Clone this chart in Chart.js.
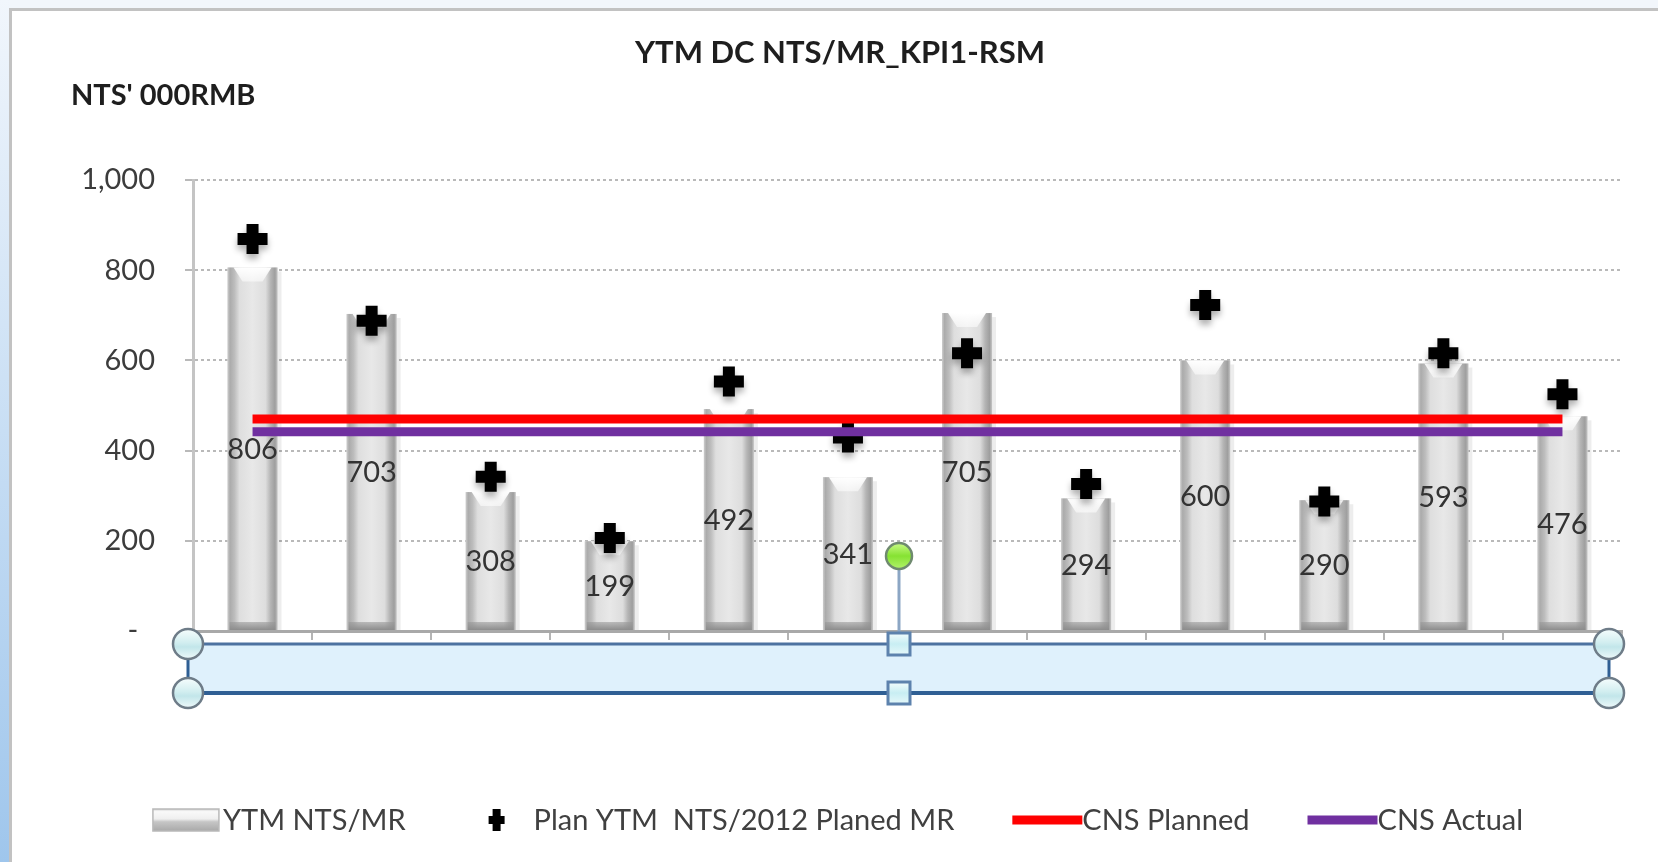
<!DOCTYPE html>
<html>
<head>
<meta charset="utf-8">
<title>YTM DC NTS/MR_KPI1-RSM</title>
<script src="https://cdn.jsdelivr.net/npm/chart.js@4.4.1/dist/chart.umd.min.js"></script>
<style>
  html, body { margin: 0; padding: 0; background: #ffffff; overflow: hidden; }
  canvas { display: block; }
</style>
</head>
<body>
<canvas id="kpiChart" width="1658" height="862"></canvas>
<script>
// ---- chart data ----
const categories = ['RSM 1', 'RSM 2', 'RSM 3', 'RSM 4', 'RSM 5', 'RSM 6',
                    'RSM 7', 'RSM 8', 'RSM 9', 'RSM 10', 'RSM 11', 'RSM 12'];
const ytmNtsMr    = [806, 703, 308, 199, 492, 341, 705, 294, 600, 290, 593, 476];
const planYtmNts  = [869, 688, 342, 206, 553, 429, 616, 326, 723, 287, 616, 525];
const cnsPlanned  = [470, 470, 470, 470, 470, 470, 470, 470, 470, 470, 470, 470];
const cnsActual   = [442, 442, 442, 442, 442, 442, 442, 442, 442, 442, 442, 442];
const seriesNames = ['YTM NTS/MR', 'Plan YTM  NTS/2012 Planed MR', 'CNS Planned', 'CNS Actual'];
const yTickValues = [0, 200, 400, 600, 800, 1000];
const chartTitle  = 'YTM DC NTS/MR_KPI1-RSM';
const unitLabel   = "NTS' 000RMB";

const FONT = 'Lato, "Open Sans", "DejaVu Sans", sans-serif';
const TEXT_SIZE = 29;

Chart.defaults.font.family = FONT;
Chart.defaults.font.size = TEXT_SIZE;

function strokeLine(ctx, x1, y1, x2, y2) {
  ctx.beginPath(); ctx.moveTo(x1, y1); ctx.lineTo(x2, y2); ctx.stroke();
}

// window background and chart frame
const framePlugin = {
  id: 'frame',
  beforeDraw(chart) {
    const { ctx, width, height } = chart;
    ctx.save();
    ctx.fillStyle = '#f2f6fb';
    ctx.fillRect(0, 0, width, height);
    const side = ctx.createLinearGradient(0, 0, 0, height);
    side.addColorStop(0, '#f1f6fc');
    side.addColorStop(1, '#9fc6ec');
    ctx.fillStyle = side;
    ctx.fillRect(0, 0, 10, height);
    ctx.fillStyle = '#ffffff';
    ctx.fillRect(12, 11, width - 12, height - 11);
    ctx.fillStyle = '#c2c2c2';
    ctx.fillRect(9, 8, width - 9, 3);
    ctx.fillRect(9, 8, 3, height - 8);
    ctx.restore();
  }
};

// chart title and unit caption
const headerPlugin = {
  id: 'header',
  afterDraw(chart) {
    const { ctx, width } = chart;
    ctx.save();
    ctx.fillStyle = '#1e1e1e';
    ctx.textBaseline = 'middle';
    ctx.font = `bold 31px ${FONT}`;
    ctx.textAlign = 'center';
    ctx.fillText(chartTitle, width / 2 + 11, 53);
    ctx.font = `bold ${TEXT_SIZE}px ${FONT}`;
    ctx.textAlign = 'left';
    ctx.fillText(unitLabel, 71, 96);
    ctx.restore();
  }
};

// cylinder-like shading of the columns plus the value labels inside them
const columnPlugin = {
  id: 'columns',
  afterDatasetDraw(chart, args) {
    if (args.index !== 0) return;
    const { ctx } = chart;
    const ds = chart.data.datasets[0];
    ctx.save();
    args.meta.data.forEach((el, i) => {
      const { x, y, base, width } = el.getProps(['x', 'y', 'base', 'width'], true);
      const left = x - width / 2, right = x + width / 2, h = base - y;
      // soft shadow on the right
      ctx.fillStyle = 'rgba(0,0,0,0.07)';
      ctx.fillRect(right, y + 4, 4, h - 4);
      const g = ctx.createLinearGradient(left, 0, right, 0);
      g.addColorStop(0.00, '#cdcdcd');
      g.addColorStop(0.05, '#ababab');
      g.addColorStop(0.14, '#bdbdbd');
      g.addColorStop(0.24, '#dedede');
      g.addColorStop(0.50, '#e8e8e8');
      g.addColorStop(0.76, '#dddddd');
      g.addColorStop(0.86, '#b5b5b5');
      g.addColorStop(0.95, '#9e9e9e');
      g.addColorStop(1.00, '#c6c6c6');
      ctx.fillStyle = g;
      ctx.fillRect(left, y, width, h);
      // bevel highlight at the top
      const capH = Math.min(14, h / 3);
      const cap = ctx.createLinearGradient(0, y, 0, y + capH);
      cap.addColorStop(0, 'rgba(255,255,255,1)');
      cap.addColorStop(1, 'rgba(255,255,255,0.55)');
      ctx.fillStyle = cap;
      ctx.beginPath();
      ctx.moveTo(left + width * 0.12, y);
      ctx.lineTo(right - width * 0.12, y);
      ctx.lineTo(x + width * 0.2, y + capH);
      ctx.lineTo(x - width * 0.2, y + capH);
      ctx.closePath();
      ctx.fill();
      // darker foot
      const foot = ctx.createLinearGradient(0, base - 8, 0, base);
      foot.addColorStop(0, 'rgba(150,150,150,0.55)');
      foot.addColorStop(1, 'rgba(140,140,140,1)');
      ctx.fillStyle = foot;
      ctx.fillRect(left + 2, base - 8, width - 4, 8);
      // value label
      ctx.fillStyle = '#333333';
      ctx.font = `${TEXT_SIZE}px ${FONT}`;
      ctx.textAlign = 'center';
      ctx.textBaseline = 'middle';
      ctx.fillText(String(ds.data[i]), x, (y + base) / 2 + 1);
    });
    ctx.restore();
  }
};

// drop shadow under the plan markers
const markerShadowPlugin = {
  id: 'markerShadow',
  beforeDatasetDraw(chart, args) {
    if (args.index !== 1) return;
    const { ctx } = chart;
    ctx.save();
    ctx.shadowColor = 'rgba(0,0,0,0.30)';
    ctx.shadowBlur = 6;
    ctx.shadowOffsetY = 5;
  },
  afterDatasetDraw(chart, args) {
    if (args.index !== 1) return;
    chart.ctx.restore();
  }
};

// selected text box with its handles below the axis
const selectionPlugin = {
  id: 'selectionBox',
  afterDraw(chart) {
    const { ctx, chartArea } = chart;
    const L = chartArea.left - 5, R = chartArea.right - 13;
    const T = chartArea.bottom + 13, B = chartArea.bottom + 62;
    const M = Math.round((L + R) / 2);
    const rotY = chartArea.bottom - 75;
    ctx.save();
    ctx.fillStyle = '#dff1fc';
    ctx.fillRect(L, T, R - L, B - T);
    ctx.strokeStyle = '#4d72a0'; ctx.lineWidth = 3;
    strokeLine(ctx, L, T, R, T);
    ctx.strokeStyle = '#2f5f94'; ctx.lineWidth = 4;
    strokeLine(ctx, L, B, R, B);
    ctx.lineWidth = 3;
    strokeLine(ctx, L, T, L, B);
    strokeLine(ctx, R, T, R, B);
    // rotation stem
    ctx.strokeStyle = '#8ca6c4'; ctx.lineWidth = 3;
    strokeLine(ctx, M, rotY, M, T);

    const roundHandle = (cx, cy) => {
      const g = ctx.createLinearGradient(0, cy - 15, 0, cy + 15);
      g.addColorStop(0, '#f6fdfd'); g.addColorStop(0.45, '#d2eef0');
      g.addColorStop(0.6, '#c2e6ea'); g.addColorStop(1, '#eef9fa');
      ctx.fillStyle = g;
      ctx.beginPath(); ctx.arc(cx, cy, 15, 0, Math.PI * 2); ctx.fill();
      ctx.strokeStyle = '#6e7c88'; ctx.lineWidth = 2.5; ctx.stroke();
    };
    const squareHandle = (cx, cy) => {
      const g = ctx.createLinearGradient(0, cy - 11, 0, cy + 11);
      g.addColorStop(0, '#f3fcfd'); g.addColorStop(0.5, '#c8eef3'); g.addColorStop(1, '#e6f8fa');
      ctx.fillStyle = g;
      ctx.fillRect(cx - 11, cy - 11, 22, 22);
      ctx.strokeStyle = '#5d82ad'; ctx.lineWidth = 3;
      ctx.strokeRect(cx - 11, cy - 11, 22, 22);
    };
    roundHandle(L, T); roundHandle(L, B); roundHandle(R, T); roundHandle(R, B);
    squareHandle(M, T); squareHandle(M, B);
    // green rotation handle
    const gg = ctx.createLinearGradient(0, rotY - 13, 0, rotY + 13);
    gg.addColorStop(0, '#c9fb86'); gg.addColorStop(0.5, '#86e232'); gg.addColorStop(1, '#b2f36a');
    ctx.fillStyle = gg;
    ctx.beginPath(); ctx.arc(M, rotY, 13, 0, Math.PI * 2); ctx.fill();
    ctx.strokeStyle = '#6f8a6f'; ctx.lineWidth = 2.5; ctx.stroke();
    ctx.restore();
  }
};

// legend row along the bottom
const legendPlugin = {
  id: 'legendRow',
  afterDraw(chart) {
    const { ctx } = chart;
    const y = 820, sw = 66, textGap = 4, itemGap = 58;
    ctx.save();
    ctx.font = `${TEXT_SIZE}px ${FONT}`;
    const items = chart.data.datasets.map(ds => ({ ds, w: ctx.measureText(ds.label).width }));
    const total = items.reduce((s, it) => s + sw + textGap + it.w, 0) + itemGap * (items.length - 1);
    let x = 838 - total / 2;
    items.forEach((it, i) => {
      const ds = it.ds;
      if (i === 0) {
        const g = ctx.createLinearGradient(0, y - 11, 0, y + 11);
        g.addColorStop(0, '#d4d4d4'); g.addColorStop(0.12, '#f9f9f9');
        g.addColorStop(0.45, '#efefef'); g.addColorStop(0.58, '#c6c6c6');
        g.addColorStop(1, '#a9a9a9');
        ctx.fillStyle = g;
        ctx.fillRect(x, y - 11, sw, 22);
        ctx.strokeStyle = '#b9b9b9'; ctx.lineWidth = 1.5;
        ctx.strokeRect(x, y - 11, sw, 22);
      } else if (ds.pointStyle === 'cross') {
        ctx.strokeStyle = ds.pointBorderColor; ctx.lineWidth = 8;
        const cx = x + sw / 2;
        strokeLine(ctx, cx - 8, y, cx + 8, y);
        strokeLine(ctx, cx, y - 11, cx, y + 11);
      } else {
        ctx.strokeStyle = ds.borderColor; ctx.lineWidth = 9;
        strokeLine(ctx, x, y, x + sw + 4, y);
      }
      x += sw + textGap;
      ctx.fillStyle = '#404040';
      ctx.textAlign = 'left';
      ctx.textBaseline = 'middle';
      ctx.fillText(ds.label, x, y + 1);
      x += it.w + itemGap;
    });
    ctx.restore();
  }
};

new Chart(document.getElementById('kpiChart'), {
  data: {
    labels: categories,
    datasets: [
      {
        type: 'bar',
        label: seriesNames[0],
        data: ytmNtsMr,
        backgroundColor: '#e0e0e0',
        borderWidth: 0,
        barPercentage: 0.42,
        categoryPercentage: 1,
        order: 3
      },
      {
        type: 'line',
        label: seriesNames[1],
        data: planYtmNts,
        showLine: false,
        pointStyle: 'cross',
        pointRadius: 15,
        pointBorderWidth: 12,
        pointBorderColor: '#000000',
        pointBackgroundColor: '#000000',
        order: 2
      },
      {
        type: 'line',
        label: seriesNames[2],
        data: cnsPlanned,
        borderColor: '#ff0000',
        borderWidth: 9,
        borderCapStyle: 'butt',
        pointRadius: 0,
        fill: false,
        order: 1
      },
      {
        type: 'line',
        label: seriesNames[3],
        data: cnsActual,
        borderColor: '#7030a0',
        borderWidth: 9,
        borderCapStyle: 'butt',
        pointRadius: 0,
        fill: false,
        order: 0
      }
    ]
  },
  options: {
    responsive: false,
    animation: false,
    devicePixelRatio: 1,
    events: [],
    layout: { padding: { top: 180, right: 36, bottom: 222, left: 0 } },
    plugins: {
      legend: { display: false },
      title: { display: false },
      tooltip: { enabled: false }
    },
    scales: {
      x: {
        grid: { display: true, drawOnChartArea: false, drawTicks: true, tickLength: 9, color: '#b4b4b4', lineWidth: 2 },
        border: { display: true, color: '#a9a9a9', width: 3 },
        ticks: { display: false }
      },
      y: {
        min: 0,
        max: 1000,
        afterBuildTicks: scale => { scale.ticks = yTickValues.map(v => ({ value: v })); },
        afterFit: scale => { scale.width = 193; },
        grid: {
          color: c => (c.tick && c.tick.value === 0 ? 'rgba(0,0,0,0)' : '#b9b9b9'),
          lineWidth: 2,
          tickLength: 8,
          tickColor: '#b9b9b9'
        },
        border: { color: '#c4c4c4', width: 3, dash: [3, 3] },
        ticks: {
          padding: 30,
          color: '#3c3c3c',
          font: { size: TEXT_SIZE },
          callback: v => (v === 0 ? '-\u2007' : Number(v).toLocaleString('en-US'))
        }
      }
    }
  },
  plugins: [framePlugin, columnPlugin, markerShadowPlugin, headerPlugin, selectionPlugin, legendPlugin]
});
</script>
</body>
</html>
